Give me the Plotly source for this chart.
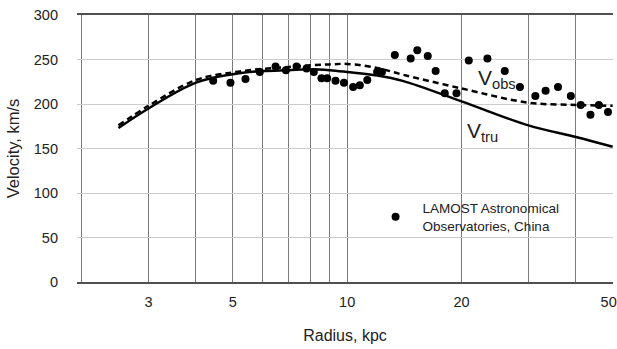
import math
import plotly.graph_objects as go

# ---- data ----
r_curve = [2.5, 3, 4, 5, 6, 7, 8, 9, 10, 12, 14, 20, 30, 40, 50]
v_tru = [173, 195, 224, 233.5, 237, 238, 239, 238, 236, 232, 226, 203, 176, 163, 152]
v_obs = [176, 198, 227, 235.5, 239.5, 241.5, 243.5, 244.5, 245, 240.5, 233, 217.5, 201.5, 199, 198]

r_pts = [4.44, 4.93, 5.40, 5.89, 6.48, 6.90, 7.36, 7.82, 8.17, 8.56, 8.86, 9.32, 9.81,
         10.37, 10.8, 11.3, 11.99, 12.35, 13.35, 14.7, 15.3, 16.3, 17.1, 18.07, 19.4,
         20.9, 23.4, 26.0, 28.5, 31.3, 33.3, 35.9, 38.8, 41.2, 43.7, 46.0, 48.6]
v_pts = [226, 224, 228, 236, 242, 238, 242, 240, 236, 229, 229, 226, 224,
         219, 221, 227, 236, 236, 255, 251, 260.5, 254, 237, 212, 212,
         249, 251, 237, 219, 209, 215, 219, 209, 199, 188, 199, 191]

grid_ticks = [2, 3, 4, 5, 6, 7, 8, 9, 10, 20, 30, 40, 50]
labelled = {3: "3", 5: "5", 10: "10", 20: "20", 50: "50\u00a0\u00a0"}
tick_text = [labelled.get(t, "") for t in grid_ticks]

FONT = "Liberation Sans, Arial, sans-serif"
TXT = "#222222"

fig = go.Figure()
fig.add_trace(go.Scatter(x=r_curve, y=v_obs, mode="lines", line=dict(color="black", width=2.5, dash="6px,4px", shape="spline"), showlegend=False))
fig.add_trace(go.Scatter(x=r_curve, y=v_tru, mode="lines", line=dict(color="black", width=2.5, shape="spline"), showlegend=False))
fig.add_trace(go.Scatter(x=r_pts, y=v_pts, mode="markers", marker=dict(color="black", size=8),
                         name="LAMOST Astronomical<br>Observatories, China", showlegend=True))

fig.add_annotation(x=math.log10(21.9), y=228, xref="x", yref="y", text="V<sub>obs</sub>", showarrow=False,
                   xanchor="left", yanchor="middle", font=dict(family=FONT, size=21, color=TXT))
fig.add_annotation(x=math.log10(20.4), y=168, xref="x", yref="y", text="V<sub>tru</sub>", showarrow=False,
                   xanchor="left", yanchor="middle", font=dict(family=FONT, size=21, color=TXT))

fig.update_layout(
    width=617, height=349,
    margin=dict(l=77, r=4, t=15, b=67, autoexpand=False),
    paper_bgcolor="white", plot_bgcolor="white",
    font=dict(family=FONT, size=14.5, color=TXT),
    legend=dict(x=0.544, y=0.243, xanchor="left", yanchor="middle", bgcolor="rgba(0,0,0,0)",
                font=dict(family=FONT, size=13.5, color=TXT), itemwidth=44),
    xaxis=dict(type="log", range=[math.log10(1.945), math.log10(50.1)],
               tickmode="array", tickvals=grid_ticks, ticktext=tick_text,
               showgrid=True, gridcolor="#7a7a7a", gridwidth=1,
               showline=True, mirror=True, linecolor="#505050", linewidth=2,
               ticks="", zeroline=False, ticklabelstandoff=6, ticklabeloverflow="allow",
               automargin=False,
               title=dict(text="Radius, kpc", font=dict(size=16), standoff=20)),
    yaxis=dict(range=[0, 300], dtick=50, showgrid=True, gridcolor="#cccccc", gridwidth=1,
               showline=False, zeroline=False, ticks="", ticklabelstandoff=18, automargin=False,
               title=dict(text="Velocity, km/s", font=dict(size=16.5), standoff=10)),
)

fig.write_html("out.html")
